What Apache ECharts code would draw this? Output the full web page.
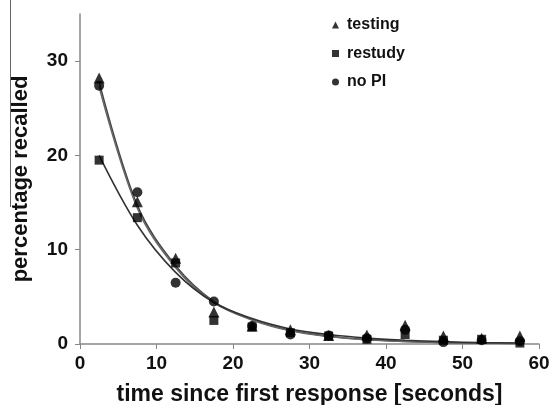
<!DOCTYPE html>
<html>
<head>
<meta charset="utf-8">
<script src="https://cdn.jsdelivr.net/npm/echarts@6/dist/echarts.min.js"></script>
<style>html,body{margin:0;padding:0;background:#fff}#c{width:550px;height:405px}</style>
</head>
<body>
<div id="c"></div>
<script>
var xBins = [2.5, 7.5, 12.5, 17.5, 22.5, 27.5, 32.5, 37.5, 42.5, 47.5, 52.5, 57.5];
var testing = [28.2, 15.1, 9.1, 3.4, 1.9, 1.5, 0.9, 0.95, 2.0, 0.85, 0.6, 0.85];
var restudy = [19.5, 13.4, 8.6, 2.5, 1.8, 1.2, 0.85, 0.5, 1.0, 0.4, 0.5, 0.1];
var noPI    = [27.4, 16.1, 6.5, 4.5, 1.9, 1.0, 0.9, 0.6, 1.5, 0.2, 0.4, 0.3];
var testingFit = [27.8, 14.7, 8.3, 4.5, 2.6, 1.45, 0.82, 0.47, 0.27, 0.16, 0.09, 0.05];
var restudyFit = [20.0, 12.6, 7.6, 4.4, 2.7, 1.6, 1.0, 0.62, 0.4, 0.25, 0.15, 0.1];
var noPIFit    = [27.3, 14.4, 8.1, 4.4, 2.55, 1.4, 0.8, 0.45, 0.26, 0.15, 0.09, 0.05];
var xTicks = [0, 10, 20, 30, 40, 50, 60];
var yTicks = [0, 10, 20, 30];

function pairs(xs, ys){ return xs.map(function(x,i){ return [x, ys[i]]; }); }

var font = 'Liberation Sans, Arial, sans-serif';
var chart = echarts.init(document.getElementById('c'), null, {renderer:'canvas'});
function fitSeries(name, d, color){
  return {name: name, type:'line', data: pairs(xBins, d), smooth: 0.35, showSymbol:false, symbol:'none',
    lineStyle:{color: color, width:1.6}, z:2, silent:true};
}
function ptSeries(name, d, sym, size){
  return {name: name, type:'scatter', data: pairs(xBins, d), symbol: sym, symbolSize: size,
    itemStyle:{color:'#000'}, z:5};
}
chart.setOption({
  animation:false,
  backgroundColor:'#fff',
  grid:{left:80, right:11, top:14, bottom:61, containLabel:false, outerBoundsMode:'none'},
  legend:{
    data:[{name:'testing', icon:'triangle'},{name:'restudy', icon:'rect'},{name:'no PI', icon:'circle'}],
    orient:'vertical', left:327, top:12, itemWidth:7, itemHeight:7, itemGap:12.5,
    textStyle:{fontFamily:font, fontWeight:'bold', fontSize:16, color:'#111', padding:[0,0,0,3]},
    itemStyle:{color:'#000'}
  },
  xAxis:{
    type:'value', min:0, max:60, interval:10,
    name:'time since first response [seconds]', nameLocation:'middle', nameGap:39,
    nameTextStyle:{fontFamily:font, fontWeight:'bold', fontSize:23, color:'#111'},
    axisLine:{lineStyle:{color:'#888', width:1.5}},
    axisTick:{show:true, length:5, lineStyle:{color:'#888'}, customValues: xTicks},
    axisLabel:{fontFamily:font, fontWeight:'bold', fontSize:19, color:'#111', margin:10, customValues: xTicks},
    splitLine:{show:false}
  },
  yAxis:{
    type:'value', min:0, max:35, interval:10,
    name:'percentage recalled', nameLocation:'middle', nameGap:48, nameRotate:90,
    nameTextStyle:{fontFamily:font, fontWeight:'bold', fontSize:22, color:'#111'},
    axisLine:{show:true, lineStyle:{color:'#888', width:1.5}},
    axisTick:{show:true, length:5, lineStyle:{color:'#888'}, customValues: yTicks},
    axisLabel:{fontFamily:font, fontWeight:'bold', fontSize:19, color:'#111', margin:12, customValues: yTicks},
    splitLine:{show:false}
  },
  graphic:[{type:'line', shape:{x1:10.5, y1:0, x2:10.5, y2:207}, style:{stroke:'#666', lineWidth:1}}],
  series:[
    fitSeries('testing fit', testingFit, '#444'),
    fitSeries('no PI fit', noPIFit, '#666'),
    fitSeries('restudy fit', restudyFit, '#333'),
    ptSeries('testing', testing, 'triangle', 11),
    ptSeries('restudy', restudy, 'rect', 9),
    ptSeries('no PI', noPI, 'circle', 10)
  ]
});
</script>
</body>
</html>
